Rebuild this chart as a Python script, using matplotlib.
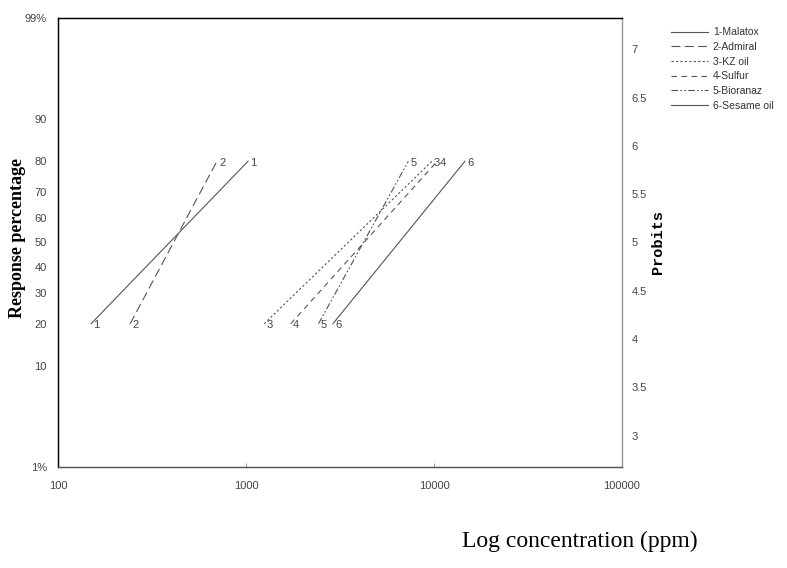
import matplotlib
matplotlib.use("Agg")
import matplotlib.pyplot as plt
from statistics import NormalDist

# data: concentrations (ppm) giving 20% and 80% response
products = ['1-Malatox', '2-Admiral', '3-KZ oil', '4-Sulfur', '5-Bioranaz', '6-Sesame oil']
numbers = ['1', '2', '3', '4', '5', '6']
conc_20 = [150, 242, 1250, 1730, 2430, 2900]
conc_80 = [1025, 700, 9750, 10400, 7300, 14600]
resp_low = 20
resp_high = 80

pct_ticks = [1, 10, 20, 30, 40, 50, 60, 70, 80, 90, 99]
pct_labels = ['1%', '10', '20', '30', '40', '50', '60', '70', '80', '90', '99%']
probit_ticks = [3, 3.5, 4, 4.5, 5, 5.5, 6, 6.5, 7]
x_ticks = [100, 1000, 10000, 100000]

styles = ['-', (0, (8, 4)), (0, (2, 2)), (0, (5, 4)), (0, (6, 2, 1.5, 2, 1.5, 2)), '-']


def probit(p):
    return 5 + NormalDist().inv_cdf(p / 100.0)


fig = plt.figure(figsize=(7.87, 5.68), dpi=100)
ax = fig.add_axes([58 / 787, 1 - 467 / 568, 564 / 787, 449 / 568])
ax.set_xscale('log')
ax.set_xlim(100, 100000)
ax.set_ylim(probit(1), probit(99))

tick_col = '#444444'
line_col = '#555555'

for i in range(len(products)):
    xs = [conc_20[i], conc_80[i]]
    ys = [probit(resp_low), probit(resp_high)]
    ax.plot(xs, ys, color=line_col, lw=0.8, linestyle=styles[i], label=products[i])
    for xx, yy in zip(xs, ys):
        ax.annotate(numbers[i], (xx, yy), xytext=(1.5, -1), textcoords='offset points',
                    ha='left', va='center', fontsize=8, color=tick_col,
                    family='Liberation Sans')

ax.set_yticks([probit(p) for p in pct_ticks])
ax.set_yticklabels(pct_labels)
ax.tick_params(axis='y', length=0, pad=8, labelsize=8, labelcolor=tick_col)
ax.set_xticks(x_ticks)
ax.set_xticklabels([str(v) for v in x_ticks])
ax.minorticks_off()
ax.tick_params(axis='x', direction='in', length=3, width=0.6, pad=10,
               labelsize=8, labelcolor=tick_col, color='#888888')
for lab in ax.get_xticklabels() + ax.get_yticklabels():
    lab.set_family('Liberation Sans')

ax2 = ax.twinx()
ax2.set_ylim(probit(1), probit(99))
ax2.set_yticks(probit_ticks)
ax2.set_yticklabels([('%g' % v) for v in probit_ticks])
ax2.tick_params(axis='y', length=0, pad=7, labelsize=8, labelcolor=tick_col)
for lab in ax2.get_yticklabels():
    lab.set_family('Liberation Sans')

for a in (ax, ax2):
    a.spines['top'].set_color('black')
    a.spines['left'].set_color('black')
    a.spines['bottom'].set_color('#555555')
    a.spines['right'].set_color('#999999')
    for s in a.spines.values():
        s.set_linewidth(0.9)

fig.text(18 / 787, 1 - 238 / 568, 'Response percentage', family='Liberation Serif',
         fontweight='bold', fontsize=13, rotation=90, ha='center', va='center')
ax2.set_ylabel('Probits', family='Liberation Mono', fontweight='bold',
               fontsize=11, labelpad=3)

fig.text(580 / 787, 1 - 541 / 568, 'Log concentration (ppm)', family='Liberation Serif',
         fontsize=17, ha='center', va='center')

leg = fig.legend(loc='upper left', bbox_to_anchor=(666 / 787, 1 - 22 / 568),
                 frameon=False, handlelength=3.5, handletextpad=0.5,
                 labelspacing=0.45, borderpad=0, prop={'family': 'Liberation Sans', 'size': 7.5})
for t in leg.get_texts():
    t.set_color('#333333')

fig.savefig('out.png', dpi=100)
